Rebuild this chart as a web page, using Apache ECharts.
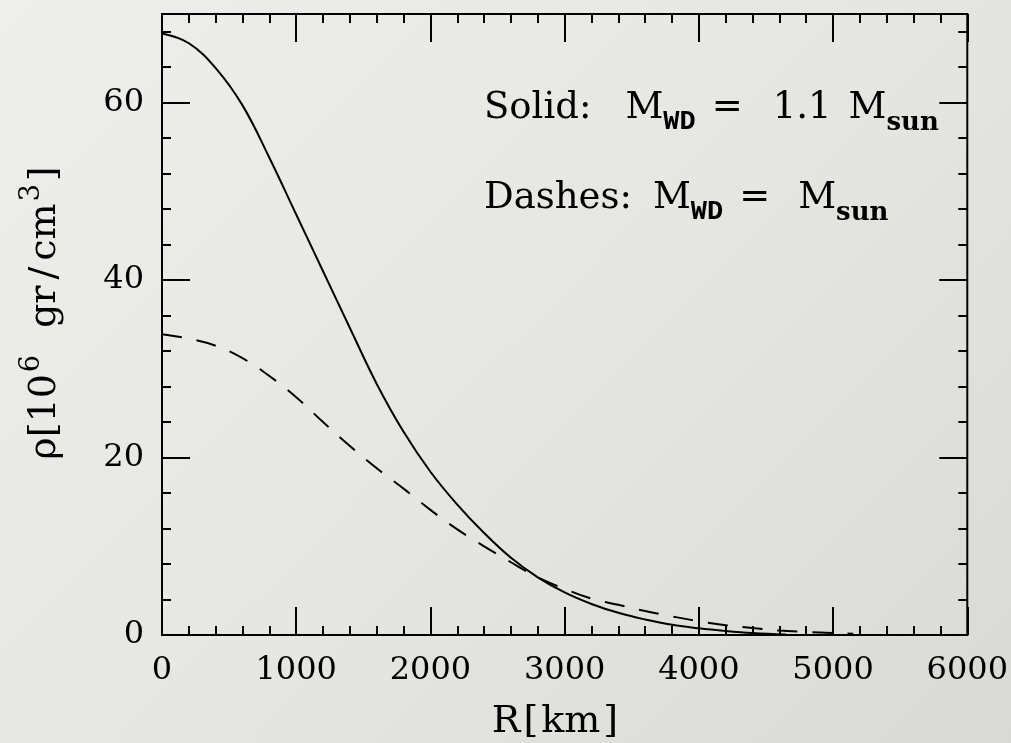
<!DOCTYPE html>
<html>
<head>
<meta charset="utf-8">
<script src="https://cdn.jsdelivr.net/npm/echarts@6/dist/echarts.min.js"></script>
<style>
html,body{margin:0;padding:0;}
#chart{width:1011px;height:743px;background:linear-gradient(135deg,#eeeeec 0%,#e6e6e3 50%,#d9dad5 100%);}
</style>
</head>
<body>
<div id="chart"></div>
<script>
// ---- data ----
const solidR   = [0, 200, 400, 600, 800, 1000, 1200, 1400, 1600, 1800, 2000, 2200, 2400, 2600, 2800, 3000, 3200, 3400, 3600, 3800, 4000, 4200, 4400, 4650];
const solidRho = [67.8, 66.7, 63.9, 59.7, 53.8, 47.4, 41.0, 34.6, 28.3, 22.9, 18.4, 14.7, 11.5, 8.7, 6.5, 4.8, 3.5, 2.5, 1.75, 1.15, 0.75, 0.45, 0.22, 0.05];
const dashR    = [0, 200, 400, 600, 800, 1000, 1200, 1400, 1600, 1800, 2000, 2200, 2400, 2600, 2800, 3000, 3200, 3400, 3600, 3800, 4000, 4200, 4400, 4600, 4800, 5000, 5150];
const dashRho  = [33.9, 33.4, 32.6, 31.2, 29.2, 26.8, 24.0, 21.3, 18.8, 16.5, 14.1, 11.9, 10.0, 8.2, 6.5, 5.2, 4.1, 3.4, 2.7, 2.1, 1.55, 1.1, 0.8, 0.5, 0.35, 0.22, 0.15];
const xMin = 0, xMax = 6000, xMajor = 1000, xMinor = 200;
const yMin = 0, yMax = 70, yMajor = 20, yMinor = 4;
const xTickLabels = ['0', '1000', '2000', '3000', '4000', '5000', '6000'];
const yTickLabels = ['0', '20', '40', '60'];

const FONT = 'DejaVu Serif';
const chart = echarts.init(document.getElementById('chart'), null, {renderer: 'canvas'});

function xAx(pos, interval, len, labels) {
  return {
    type: 'value', min: xMin, max: xMax, interval: interval, position: pos,
    axisLine: {show: false, onZero: false},
    axisTick: {show: true, inside: true, length: len, lineStyle: {color: '#000', width: 2}},
    axisLabel: labels ? {show: true, margin: 20, color: '#000', fontFamily: FONT, fontSize: 32,
      formatter: v => { const s = String(v); return xTickLabels.indexOf(s) >= 0 ? s : ''; }} : {show: false},
    splitLine: {show: false}
  };
}
function yAx(pos, interval, len, labels) {
  return {
    type: 'value', min: yMin, max: yMax, interval: interval, position: pos,
    axisLine: {show: false, onZero: false},
    axisTick: {show: true, inside: true, length: len, lineStyle: {color: '#000', width: 2}},
    axisLabel: labels ? {show: true, margin: 18, color: '#000', fontFamily: FONT, fontSize: 32,
      formatter: v => { const s = String(v); return yTickLabels.indexOf(s) >= 0 ? s : ''; }} : {show: false},
    splitLine: {show: false}
  };
}

const annRich = {
  m: {fontFamily: FONT, fontSize: 37, fill: '#000', verticalAlign: 'bottom', padding: [0, 0, 9, 0]},
  wd: {fontFamily: 'Liberation Mono', fontWeight: 'bold', fontSize: 27, fill: '#000', verticalAlign: 'bottom'},
  sun: {fontFamily: FONT, fontWeight: 'bold', fontSize: 26, fill: '#000', verticalAlign: 'bottom'}
};
function pad(style, left) { return Object.assign({}, style, {padding: [0, 0, 9, left]}); }

const option = {
  backgroundColor: 'transparent',
  animation: false,
  grid: {left: 162, right: 42, top: 14, bottom: 108, show: true, borderColor: '#000', borderWidth: 2, backgroundColor: 'transparent'},
  xAxis: [
    xAx('bottom', xMajor, 28, true),
    xAx('bottom', xMinor, 9, false),
    xAx('top', xMajor, 28, false),
    xAx('top', xMinor, 9, false)
  ],
  yAxis: [
    yAx('left', yMajor, 28, true),
    yAx('left', yMinor, 9, false),
    yAx('right', yMajor, 28, false),
    yAx('right', yMinor, 9, false)
  ],
  series: [
    {
      type: 'line', xAxisIndex: 0, yAxisIndex: 0, smooth: 0.4, symbol: 'none',
      data: solidR.map((r, i) => [r, solidRho[i]]),
      lineStyle: {color: '#000', width: 2}
    },
    {
      type: 'line', xAxisIndex: 0, yAxisIndex: 0, smooth: 0.4, symbol: 'none',
      data: dashR.map((r, i) => [r, dashRho[i]]),
      lineStyle: {color: '#000', width: 2, type: [20, 15]}
    }
  ],
  graphic: [
    {
      type: 'text', left: 484, top: 90,
      style: {
        text: '{m|Solid:}{a|M}{wd|WD}{b|=}{c|1.1}{d|M}{sun|sun}',
        rich: Object.assign({}, annRich, {
          a: pad(annRich.m, 34), b: pad(annRich.m, 16), c: pad(annRich.m, 30), d: pad(annRich.m, 17)
        })
      }
    },
    {
      type: 'text', left: 484, top: 180,
      style: {
        text: '{m|Dashes:}{a|M}{wd|WD}{b|=}{d|M}{sun|sun}',
        rich: Object.assign({}, annRich, {
          a: pad(annRich.m, 21), b: pad(annRich.m, 16), d: pad(annRich.m, 28)
        })
      }
    },
    {
      type: 'text', x: 555, y: 722,
      style: {
        text: '{m|R}{b|[}{b|km}{b|]}', align: 'center', verticalAlign: 'middle',
        rich: {
          m: {fontFamily: FONT, fontSize: 38, fill: '#000'},
          b: {fontFamily: FONT, fontSize: 38, fill: '#000', padding: [0, 0, 0, 3]}
        }
      }
    },
    {
      type: 'text', x: 41, y: 313, rotation: Math.PI / 2,
      style: {
        text: '{m|ρ}{m|[10}{s|6}{g|gr}{sl|/}{c|cm}{s|3}{e|]}', align: 'center', verticalAlign: 'middle',
        rich: {
          m: {fontFamily: FONT, fontSize: 38, fill: '#000', verticalAlign: 'bottom', lineHeight: 46},
          g: {fontFamily: FONT, fontSize: 38, fill: '#000', verticalAlign: 'bottom', lineHeight: 46, padding: [0, 0, 0, 27]},
          sl: {fontFamily: FONT, fontSize: 38, fill: '#000', verticalAlign: 'bottom', lineHeight: 46, padding: [0, 0, 0, 6]},
          c: {fontFamily: FONT, fontSize: 38, fill: '#000', verticalAlign: 'bottom', lineHeight: 46, padding: [0, 0, 0, 6]},
          e: {fontFamily: FONT, fontSize: 38, fill: '#000', verticalAlign: 'bottom', lineHeight: 46, padding: [0, 0, 0, 3]},
          s: {fontFamily: FONT, fontSize: 27, fill: '#000', verticalAlign: 'top', lineHeight: 30, padding: [0, 0, 0, 2]}
        }
      }
    }
  ]
};
chart.setOption(option);
</script>
</body>
</html>
